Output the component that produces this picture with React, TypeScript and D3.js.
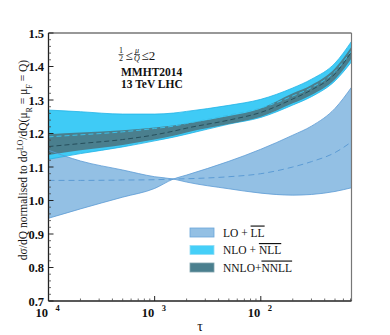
import * as d3 from 'd3'

// tau grid shared by every band
const TAU = [1e-4, 2e-4, 5e-4, 1e-3, 1.5e-3, 2e-3, 5e-3, 1e-2, 2e-2, 3e-2, 5e-2, 0.0715]

// LO + LL : the two scale-variation edges cross near tau ~ 1.5e-3
const LO_A = [1.150, 1.118, 1.091, 1.071, 1.064, 1.055, 1.035, 1.022, 1.016, 1.018, 1.027, 1.038]
const LO_B = [0.947, 0.975, 1.010, 1.036, 1.064, 1.076, 1.117, 1.153, 1.195, 1.222, 1.275, 1.338]
const LO_C = [1.060, 1.060, 1.061, 1.062, 1.064, 1.065, 1.071, 1.080, 1.100, 1.116, 1.143, 1.175]

// NLO + NLL
const NLO_HI = [1.270, 1.265, 1.258, 1.258, 1.261, 1.266, 1.284, 1.302, 1.336, 1.362, 1.410, 1.475]
const NLO_LO = [1.123, 1.140, 1.160, 1.178, 1.189, 1.198, 1.228, 1.248, 1.285, 1.310, 1.357, 1.414]
const NLO_C = [1.190, 1.196, 1.205, 1.215, 1.222, 1.230, 1.255, 1.276, 1.312, 1.337, 1.385, 1.447]

// NNLO + NNLL
const NNLO_HI = [1.198, 1.203, 1.210, 1.218, 1.224, 1.230, 1.252, 1.275, 1.320, 1.345, 1.395, 1.459]
const NNLO_LO = [1.136, 1.150, 1.166, 1.182, 1.193, 1.203, 1.228, 1.250, 1.290, 1.315, 1.362, 1.424]
const NNLO_C = [1.161, 1.170, 1.182, 1.196, 1.207, 1.216, 1.240, 1.263, 1.303, 1.330, 1.378, 1.444]

const Y_TICKS = [0.7, 0.8, 0.9, 1.0, 1.1, 1.2, 1.3, 1.4, 1.5]
const X_DECADES = [-4, -3, -2]

const LEGEND = [
  { base: 'LO + ', bar: 'LL', fill: '#93c0e4', stroke: '#6aa6da' },
  { base: 'NLO + ', bar: 'NLL', fill: '#45cff8', stroke: '#8fdcf5' },
  { base: 'NNLO+', bar: 'NNLL', fill: '#4a7f8e', stroke: '#7fa3ad' },
]

const FONT = "'Liberation Serif', 'Times New Roman', serif"

export default function App() {
  const W = 390, H = 335
  const pad = { l: 48.5, r: 351.5, t: 33, b: 301 }

  const x = d3.scaleLog().domain([1e-4, 0.0715]).range([pad.l, pad.r])
  const y = d3.scaleLinear().domain([0.7, 1.5]).range([pad.b, pad.t])

  const area = (lo: number[], hi: number[]) =>
    d3.area<number>()
      .x(t => x(t))
      .y0((_, i) => y(lo[i]))
      .y1((_, i) => y(hi[i]))
      .curve(d3.curveMonotoneX)(TAU) as string
  const line = (v: number[]) =>
    d3.line<number>()
      .x(t => x(t))
      .y((_, i) => y(v[i]))
      .curve(d3.curveMonotoneX)(TAU) as string

  const yMinor = d3.range(36, 75).map(k => k / 50).filter(v => Math.round(v * 50) % 5 !== 0)
  const xMinor: number[] = []
  X_DECADES.forEach(d => {
    for (let m = 2; m <= 9; m++) {
      const t = m * Math.pow(10, d)
      if (t <= 0.0715) xMinor.push(t)
    }
  })

  return (
    <svg width={W} height={H} style={{ position: 'absolute', left: 0, top: 0, background: '#fff' }} fontFamily={FONT}>
      <defs>
        <clipPath id="plot">
          <rect x={pad.l} y={pad.t} width={pad.r - pad.l} height={pad.b - pad.t} />
        </clipPath>
      </defs>

      <g clipPath="url(#plot)">
        {/* LO band */}
        <path d={area(LO_A, LO_B)} fill="#93c0e4" />
        <path d={line(LO_C)} fill="none" stroke="#5c9bd4" strokeWidth={1} strokeDasharray="6,4" />

        {/* NLO band */}
        <path d={area(NLO_LO, NLO_HI)} fill="#3fcbf6" />
        <path d={line(NLO_HI)} fill="none" stroke="#22b3e6" strokeWidth={0.8} />
        <path d={line(NLO_LO)} fill="none" stroke="#22b3e6" strokeWidth={0.8} />

        {/* NNLO band */}
        <path d={area(NNLO_LO, NNLO_HI)} fill="#4a7f8e" />
        <path d={line(NLO_C)} fill="none" stroke="#3bbfe8" strokeWidth={1} strokeDasharray="5,3" />
        <path d={line(NNLO_C)} fill="none" stroke="#264f5c" strokeWidth={1} strokeDasharray="5,3" />

        {/* LO edges on top */}
        <path d={line(LO_A)} fill="none" stroke="#5c9bd4" strokeWidth={1} opacity={0.8} />
        <path d={line(LO_B)} fill="none" stroke="#5c9bd4" strokeWidth={1} opacity={0.8} />
      </g>

      {/* frame */}
      <line x1={pad.l} x2={pad.r} y1={pad.t} y2={pad.t} stroke="#333" strokeWidth={1.2} />
      <line x1={pad.r} x2={pad.r} y1={pad.t} y2={pad.b} stroke="#777" strokeWidth={1.2} />
      <line x1={pad.l} x2={pad.l} y1={pad.t} y2={pad.b} stroke="#222" strokeWidth={1.3} />
      <line x1={pad.l} x2={pad.r} y1={pad.b} y2={pad.b} stroke="#222" strokeWidth={1.3} />

      {/* y ticks */}
      {Y_TICKS.map(v => (
        <g key={'y' + v}>
          <line x1={pad.l} x2={pad.l + 5} y1={y(v)} y2={y(v)} stroke="#222" strokeWidth={1} />
          <text x={44} y={y(v) + 4.5} textAnchor="end" fontSize={12.5} fontWeight="bold" fill="#111">{v.toFixed(1)}</text>
        </g>
      ))}
      {yMinor.map(v => (
        <line key={'ym' + v} x1={pad.l} x2={pad.l + 2.5} y1={y(v)} y2={y(v)} stroke="#444" strokeWidth={0.8} />
      ))}

      {/* x ticks */}
      {X_DECADES.map(d => {
        const t = Math.pow(10, d)
        return (
          <g key={'x' + d}>
            <line x1={x(t)} x2={x(t)} y1={pad.b} y2={pad.b - 5} stroke="#222" strokeWidth={1} />
            <text x={x(t) - 0.5} y={317} textAnchor="end" fontSize={12.5} fontWeight="bold" fill="#111">10</text>
            <text x={x(t) + 7} y={310.5} fontSize={8.5} fontWeight="bold" fill="#111">{-d}</text>
          </g>
        )
      })}
      {xMinor.map(t => (
        <line key={'xm' + t} x1={x(t)} x2={x(t)} y1={pad.b} y2={pad.b - 2.5} stroke="#444" strokeWidth={0.8} />
      ))}

      {/* axis titles */}
      <text x={200} y={331} textAnchor="middle" fontSize={14} fill="#111">τ</text>
      <text transform="translate(27,160) rotate(-90)" textAnchor="middle" fontSize={11.5} fill="#111">
        dσ/dQ normalised  to  dσ<tspan baselineShift="super" fontSize={8}>LO</tspan>/dQ(μ<tspan baselineShift="sub" fontSize={8}>R</tspan> = μ<tspan baselineShift="sub" fontSize={8}>F</tspan> = Q)
      </text>

      {/* annotation */}
      <g fill="#111">
        <text x={121} y={53} textAnchor="middle" fontSize={8}>1</text>
        <line x1={118.5} x2={123.5} y1={54.5} y2={54.5} stroke="#111" strokeWidth={0.6} />
        <text x={121} y={61} textAnchor="middle" fontSize={8}>2</text>
        <text x={125.5} y={60} fontSize={13}>≤</text>
        <text x={137} y={53} textAnchor="middle" fontSize={8} fontStyle="italic">μ</text>
        <line x1={134} x2={140} y1={54.5} y2={54.5} stroke="#111" strokeWidth={0.6} />
        <text x={137} y={61} textAnchor="middle" fontSize={8} fontStyle="italic">Q</text>
        <text x={141.5} y={60} fontSize={13}>≤2</text>
        <text x={121} y={76} fontSize={11.5} fontWeight="bold">MMHT2014</text>
        <text x={121} y={87.5} fontSize={11.5} fontWeight="bold">13 TeV LHC</text>
      </g>

      {/* legend */}
      {LEGEND.map((e, i) => {
        const cy = 232.5 + i * 17.5
        return (
          <g key={e.base}>
            <rect x={190} y={cy - 4.5} width={24} height={9} fill={e.fill} stroke={e.stroke} strokeWidth={0.8} />
            <text x={223} y={cy + 4} fontSize={11.5} fill="#111">
              {e.base}<tspan style={{ textDecoration: 'overline' }}>{e.bar}</tspan>
            </text>
          </g>
        )
      })}
    </svg>
  )
}
